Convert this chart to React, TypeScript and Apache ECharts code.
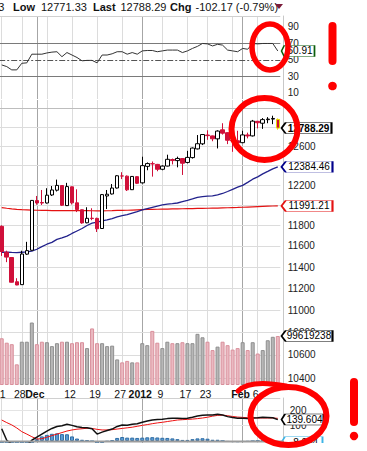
import { useEffect, useRef } from 'react';
import * as echarts from 'echarts';

const FONT = '"Liberation Sans", Arial, Helvetica, sans-serif';

const dates = [
  '2011-11-21', '2011-11-22', '2011-11-23', '2011-11-25', '2011-11-28', '2011-11-29', '2011-11-30',
  '2011-12-01', '2011-12-02', '2011-12-05', '2011-12-06', '2011-12-07', '2011-12-08', '2011-12-09',
  '2011-12-12', '2011-12-13', '2011-12-14', '2011-12-15', '2011-12-16', '2011-12-19', '2011-12-20',
  '2011-12-21', '2011-12-22', '2011-12-23', '2011-12-27', '2011-12-28', '2011-12-29', '2011-12-30',
  '2012-01-03', '2012-01-04', '2012-01-05', '2012-01-06', '2012-01-09', '2012-01-10', '2012-01-11',
  '2012-01-12', '2012-01-13', '2012-01-17', '2012-01-18', '2012-01-19', '2012-01-20', '2012-01-23',
  '2012-01-24', '2012-01-25', '2012-01-26', '2012-01-27', '2012-01-30', '2012-01-31', '2012-02-01',
  '2012-02-02', '2012-02-03', '2012-02-06', '2012-02-07', '2012-02-08', '2012-02-09', '2012-02-10',
];

const prevClose0 = 11796.16;

const opens = [
  11790, 11540, 11490, 11262, 11235, 11522, 11559, 12044, 12025, 12020,
  12100, 12148, 12195, 11994, 12182, 12022, 11953, 11825, 11870, 11868,
  11769, 12090, 12110, 12170, 12292, 12290, 12153, 12285, 12222, 12390,
  12417, 12410, 12360, 12393, 12460, 12449, 12470, 12430, 12480, 12570,
  12623, 12715, 12706, 12675, 12770, 12740, 12658, 12655, 12635, 12716,
  12706, 12860, 12840, 12878, 12884, 12880,
];
const highs = [
  11800, 11555, 11495, 11295, 11555, 11640, 12050, 12090, 12150, 12168,
  12190, 12255, 12200, 12222, 12185, 12157, 11955, 11978, 11968, 11875,
  12110, 12150, 12210, 12300, 12330, 12297, 12290, 12290, 12489, 12430,
  12440, 12415, 12400, 12510, 12470, 12490, 12475, 12550, 12585, 12715,
  12725, 12765, 12710, 12765, 12840, 12745, 12660, 12760, 12760, 12740,
  12875, 12865, 12895, 12905, 12920, 12890.63,
];
const lows = [
  11505, 11446, 11255, 11230, 11232, 11515, 11555, 12003, 12000, 12015,
  12090, 12135, 11990, 11990, 12005, 11930, 11815, 11820, 11850, 11735,
  11766, 11960, 12105, 12165, 12260, 12140, 12150, 12210, 12215, 12350,
  12285, 12340, 12350, 12390, 12410, 12380, 12302, 12420, 12470, 12565,
  12610, 12665, 12650, 12575, 12720, 12620, 12540, 12600, 12630, 12680,
  12700, 12785, 12780, 12840, 12830, 12771.33,
];
const closes = [
  11547.31, 11493.72, 11257.55, 11231.78, 11523.01, 11555.63, 12045.68, 12020.03, 12019.42, 12097.83,
  12150.13, 12196.37, 11997.7, 12184.26, 12021.39, 11954.94, 11823.48, 11868.81, 11866.39, 11766.26,
  12103.58, 12107.74, 12169.65, 12294.0, 12291.35, 12151.41, 12287.04, 12217.56, 12397.38, 12418.42,
  12415.7, 12359.92, 12392.69, 12462.47, 12449.45, 12471.02, 12422.06, 12482.07, 12578.95, 12623.98,
  12720.48, 12708.82, 12675.75, 12756.96, 12734.63, 12660.46, 12653.72, 12632.91, 12716.46, 12705.41,
  12862.23, 12845.13, 12878.28, 12883.95, 12890.46, 12788.29,
];
const volumes = [
  95000000, 86000000, 83000000, 42000000, 88000000, 88000000, 127000000, 83000000, 88000000, 87000000,
  79000000, 85000000, 88000000, 88000000, 85000000, 87000000, 87000000, 75000000, 115000000, 85000000,
  85000000, 79000000, 80000000, 52000000, 46000000, 49000000, 46000000, 46000000, 85000000, 81000000,
  110000000, 86000000, 75000000, 88000000, 85000000, 85000000, 87000000, 85000000, 85000000, 104000000,
  97000000, 88000000, 71000000, 78000000, 88000000, 81000000, 72000000, 75000000, 87000000, 71000000,
  87000000, 64000000, 71000000, 91000000, 98000000, 99619238,
];
const ma50 = [
  11540, 11540, 11538, 11537, 11540, 11543, 11550, 11569, 11594, 11617,
  11635, 11664, 11678, 11695, 11721, 11745, 11769, 11798, 11821, 11832,
  11844, 11854, 11866, 11883, 11895, 11905, 11920, 11935, 11951, 11964,
  11977, 11990, 12001, 12008, 12013, 12020, 12033, 12046, 12060, 12076,
  12083, 12088, 12092, 12102, 12115, 12135, 12157, 12179, 12197, 12227,
  12259, 12283, 12313, 12338, 12364, 12384.46,
];
const ma200 = [
  11975, 11968, 11962, 11957, 11954, 11952, 11950, 11948, 11947, 11946,
  11945, 11945, 11945, 11945, 11945, 11945, 11945, 11944, 11943, 11942,
  11942, 11943, 11944, 11946, 11947, 11948, 11950, 11952, 11954, 11956,
  11957, 11958, 11959, 11960, 11961, 11962, 11963, 11964, 11965, 11966,
  11967, 11968, 11969, 11970, 11972, 11973, 11975, 11976, 11978, 11980,
  11982, 11984, 11986, 11988, 11990, 11991.21,
];
const rsi14 = [
  44, 42, 38, 38, 46, 46.5, 57, 57, 57, 58.5,
  59.5, 60, 54, 59, 56, 53, 49, 49.5, 49.5, 46.5,
  56, 56, 57.5, 60, 60, 57, 59, 57, 61, 61.5,
  61.5, 60, 61, 62, 62, 62, 59, 61, 64, 66.5,
  70, 69.5, 67, 69, 68, 62, 61, 60, 64, 63,
  70, 69.5, 70, 70, 70, 60.91,
];
const macdLine = [
  80, 5, -20, -45, -40, -28, 5, 25, 45, 65,
  82, 95, 100, 109, 102, 93, 88, 87, 80, 45,
  58, 68, 78, 95, 105, 103, 109, 112, 122, 130,
  137, 140, 142, 146, 148, 149, 146, 148, 155, 163,
  168, 170, 170, 175, 170, 159, 153, 148, 148, 147,
  150, 152, 155, 154, 152, 139.604,
];
const signalLine = [
  137, 120, 105, 85, 61, 45, 28, 13, 15, 25,
  35, 45, 55, 65, 72, 77, 80, 83, 82, 76,
  72, 72, 74, 78, 82, 86, 90, 96, 102, 107,
  113, 118, 122, 127, 132, 137, 139, 141, 143, 146,
  150, 155, 162, 167, 169, 165, 160, 156, 154, 152,
  151, 150, 150, 150, 150, 148,
];
const histogram = [
  -57, -115, -125, -130, -101, -73, -23, 12, 30, 40,
  47, 50, 45, 44, 30, 16, 8, 4, -2, -31,
  -14, -4, 6, 20, 26, 22, 22, 20, 22, 24,
  25, 23, 21, 20, 17, 12, 7, 7, 12, 17,
  18, 15, 8, 8, 1, -6, -7, -8, -6, -5,
  -1, 2, 5, 4, 2, -8.004,
];

const weekIdx = [0, 4, 7, 9, 14, 19, 24, 28, 32, 37, 41, 46, 48, 51];
const monthIdx = [7, 28, 48];
const labelIdx = [0, 4, 7, 14, 19, 24, 28, 32, 37, 41, 48, 51];
const labelText = ['21', '28', 'Dec', '12', '19', '27', '2012', '9', '17', '23', 'Feb', '6'];
const boldLabels = ['Dec', '2012', 'Feb'];
const priceTicks = [10400, 10600, 10800, 11000, 11200, 11400, 11600, 11800, 12000, 12200, 12400, 12600, 12800, 13000];
// tick labels that sit hidden under the value tags / top border in the reference
const hiddenPriceLabels = [12000, 12400, 12800, 13000];
const rsiTicks = [10, 30, 50, 70, 90];
const macdTicks = [100, 200];

const TAG_PATH = 'path://M0,6L5,0L60,0L60,12L5,12Z';

function buildOption() {
  const N = dates.length;
  const last = N - 1;
  const GL = -0.8;
  const GW = 281.1;
  const RED = '#d0103a';

  const grid = (top: number, height: number) => ({
    left: GL, width: GW, top, height, show: false, containLabel: false, outerBoundsMode: 'none',
  });

  const xBase = (gridIndex: number) => ({
    type: 'category', gridIndex, data: dates, boundaryGap: true,
    axisLine: { show: false }, axisTick: { show: false }, axisLabel: { show: false }, splitLine: { show: false },
  });

  const yRight = (gridIndex: number, extra: any) => ({
    gridIndex, position: 'right', offset: 3, z: 1,
    axisLine: { show: true, lineStyle: { color: '#c8c8c8', width: 1 } },
    axisTick: { show: false }, axisLabel: { show: false }, splitLine: { show: false },
    ...extra,
  });

  const vLines = weekIdx.map((i) => ({
    xAxis: dates[i],
    lineStyle: { color: monthIdx.includes(i) ? '#a6a6a6' : '#dcdcdc', width: 1, type: 'solid' },
    label: { show: false },
  }));

  const hLine = (v: number, color: string, label: string | null, type: any = 'solid', dist = 7.5) => ({
    yAxis: v,
    lineStyle: { color, width: 1, type },
    label: label == null
      ? { show: false }
      : { show: true, position: 'end', formatter: label, distance: dist, color: '#222', fontSize: 10, fontFamily: FONT },
  });

  const gridSeries = (k: number, hl: any[]) => ({
    type: 'line', xAxisIndex: k, yAxisIndex: k, data: [], silent: true, z: 1,
    markLine: { silent: true, z: 1, symbol: ['none', 'none'], animation: false, precision: 3, data: [...vLines, ...hl] },
  });

  const tag = (value: number, text: string, border: string, width: number, bold = false) => ({
    z: 20,
    symbol: TAG_PATH,
    symbolSize: [width, 11],
    symbolOffset: [3.7 + width / 2, 0],
    silent: true,
    animation: false,
    itemStyle: { color: '#fff', borderColor: border, borderWidth: 1 },
    label: {
      show: true, position: 'inside', formatter: text, color: '#000', fontSize: 10,
      fontWeight: bold ? 'bold' : 'normal', fontFamily: FONT, offset: [2, 0],
    },
    data: [{ coord: [dates[last], value] }],
  });

  const candleData = dates.map((_, i) => {
    const prev = i > 0 ? closes[i - 1] : prevClose0;
    const col = closes[i] < prev ? RED : '#000';
    const filled = closes[i] < opens[i];
    const fill = filled ? col : '#fff';
    const border = i === last ? '#e6d800' : col;
    return {
      value: [opens[i], closes[i], lows[i], highs[i]],
      itemStyle: { color: fill, color0: fill, borderColor: border, borderColor0: border, borderWidth: 1 },
    };
  });

  const volData = volumes.map((v, i) => {
    const prev = i > 0 ? closes[i - 1] : prevClose0;
    const down = closes[i] < prev;
    return {
      value: v,
      itemStyle: { color: down ? '#eab9c1' : '#b7b7b7', borderColor: down ? '#d98f9b' : '#8e8e8e', borderWidth: 1 },
    };
  });

  const rsiH = [
    hLine(103.3, '#d0d0d0', null),
    ...rsiTicks.map((v) =>
      hLine(
        v,
        v === 70 || v === 30 ? '#7a7a7a' : v === 50 ? '#555555' : 'rgba(0,0,0,0)',
        String(v),
        v === 50 ? [6, 2, 2, 2] : 'solid',
      ),
    ),
  ];
  const priceH = priceTicks.map((p) =>
    hLine(p, p === 13000 ? '#bdbdbd' : '#dcdcdc', hiddenPriceLabels.includes(p) ? null : String(p)),
  );
  const macdH = [hLine(280.5, '#d0d0d0', null), ...macdTicks.map((v) => hLine(v, '#e4e4e4', String(v), 'solid', 9.5))];

  const chg = closes[last] - closes[last - 1];
  const pct = (chg / closes[last - 1]) * 100;
  const txt = (x: number, text: string, bold = false, align = 'left') => ({
    type: 'text', x, y: 6.5, z: 100,
    style: { text, fontSize: 11, fontWeight: bold ? 'bold' : 'normal', fontFamily: FONT, fill: '#111', align, verticalAlign: 'middle' },
  });
  const redStroke = { fill: 'none', stroke: '#ff0000', lineWidth: 6, lineCap: 'round' };

  return {
    animation: false,
    backgroundColor: '#ffffff',
    textStyle: { fontFamily: FONT },
    grid: [grid(16, 83), grid(100, 285), grid(300, 85), grid(398, 45)],
    xAxis: [
      xBase(0),
      xBase(1),
      {
        ...xBase(2),
        axisLabel: {
          show: true,
          margin: 3,
          padding: [0, 4, 0, 0],
          interval: (index: number) => labelIdx.includes(index),
          formatter: (_: string, index: number) => {
            const t = labelText[labelIdx.indexOf(index)] || '';
            return boldLabels.includes(t) ? `{b|${t}}` : `{n|${t}}`;
          },
          rich: {
            b: { fontWeight: 'bold', fontSize: 10.5, fontFamily: FONT, color: '#111' },
            n: { fontSize: 10.5, fontFamily: FONT, color: '#111' },
          },
        },
      },
      xBase(3),
    ],
    yAxis: [
      yRight(0, { type: 'value', min: 2.7, max: 103.3 }),
      yRight(1, { type: 'log', logBase: 10, min: 10340, max: 13089 }),
      { type: 'value', gridIndex: 2, min: 0, max: 172.8e6, show: false, splitLine: { show: false } },
      yRight(3, { type: 'value', min: -13, max: 280.5 }),
    ],
    series: [
      gridSeries(0, rsiH),
      gridSeries(1, priceH),
      gridSeries(3, macdH),
      {
        type: 'line', xAxisIndex: 0, yAxisIndex: 0, data: rsi14, symbol: 'none', showSymbol: false, silent: true, z: 3,
        lineStyle: { color: '#333', width: 1 },
        markPoint: tag(rsi14[last], rsi14[last].toFixed(2), '#0b5e0b', 33),
      },
      {
        type: 'bar', xAxisIndex: 2, yAxisIndex: 2, data: volData, barWidth: 4, silent: true, z: 2,
        markPoint: tag(volumes[last], String(volumes[last]), '#000', 51),
      },
      {
        type: 'line', xAxisIndex: 1, yAxisIndex: 1, data: ma200, symbol: 'none', showSymbol: false, silent: true, z: 3,
        lineStyle: { color: '#e41212', width: 1.2 },
        markPoint: tag(ma200[last], ma200[last].toFixed(2), '#e41212', 51),
      },
      {
        type: 'line', xAxisIndex: 1, yAxisIndex: 1, data: ma50, symbol: 'none', showSymbol: false, silent: true, z: 3,
        lineStyle: { color: '#22228c', width: 1.3 },
        markPoint: tag(ma50[last], ma50[last].toFixed(2), '#00008b', 51),
      },
      {
        type: 'candlestick', xAxisIndex: 1, yAxisIndex: 1, data: candleData, barWidth: 4, silent: true, z: 4,
        markPoint: tag(closes[last], closes[last].toFixed(2), '#000', 50, true),
      },
      {
        type: 'bar', xAxisIndex: 3, yAxisIndex: 3, data: histogram, barWidth: 4, silent: true, z: 2,
        itemStyle: { color: '#5b9bd5', borderColor: '#2e6da4', borderWidth: 1 },
        markPoint: tag(histogram[last], histogram[last].toFixed(3), '#3cb4e6', 41),
      },
      {
        type: 'line', xAxisIndex: 3, yAxisIndex: 3, data: signalLine, symbol: 'none', showSymbol: false, silent: true, z: 3,
        lineStyle: { color: '#ee1111', width: 1 },
      },
      {
        type: 'line', xAxisIndex: 3, yAxisIndex: 3, data: macdLine, symbol: 'none', showSymbol: false, silent: true, z: 4,
        lineStyle: { color: '#111', width: 1.5 },
        markPoint: tag(macdLine[last], macdLine[last].toFixed(3), '#000', 42),
      },
    ],
    graphic: [
      { type: 'rect', z: 90, shape: { x: 0, y: 443, width: 367, height: 8 }, style: { fill: '#ffffff' } },
      { type: 'line', z: 95, shape: { x1: 0, y1: 441.5, x2: 284, y2: 441.5 }, style: { stroke: '#9c9c9c', lineWidth: 2 } },
      txt(4.5, highs[last].toFixed(2), false, 'right'),
      txt(13, 'Low', true),
      txt(41, lows[last].toFixed(2)),
      txt(93, 'Last', true),
      txt(120.5, closes[last].toFixed(2)),
      txt(170, 'Chg', true),
      txt(195.5, `${chg.toFixed(2)} (${pct.toFixed(2)}%)`),
      { type: 'polygon', z: 100, shape: { points: [[275, 4], [283, 4], [279, 9]] }, style: { fill: '#7a1b3a' } },
      // hand-drawn red annotations
      { type: 'ellipse', z: 110, shape: { cx: 270, cy: 47, rx: 18, ry: 23 }, style: { ...redStroke, lineWidth: 5.5 } },
      { type: 'line', z: 110, shape: { x1: 332.5, y1: 26, x2: 332.5, y2: 61 }, style: { stroke: '#ff0000', lineWidth: 8, lineCap: 'round' } },
      { type: 'circle', z: 110, shape: { cx: 332.5, cy: 86, r: 4.3 }, style: { fill: '#ff0000' } },
      { type: 'ellipse', z: 110, shape: { cx: 264.5, cy: 129, rx: 33, ry: 31 }, style: redStroke },
      { type: 'ellipse', z: 110, shape: { cx: 288.5, cy: 416, rx: 38, ry: 29 }, style: redStroke },
      { type: 'bezierCurve', z: 110, shape: { x1: 238, y1: 391, cpx1: 250, cpy1: 379, x2: 286, y2: 386 }, style: { ...redStroke, lineWidth: 5 } },
      { type: 'line', z: 110, shape: { x1: 354, y1: 382, x2: 354, y2: 422 }, style: { stroke: '#ff0000', lineWidth: 8, lineCap: 'round' } },
      { type: 'circle', z: 110, shape: { cx: 354, cy: 436, r: 4.2 }, style: { fill: '#ff0000' } },
    ],
  };
}

export default function App() {
  const ref = useRef<HTMLDivElement>(null);
  useEffect(() => {
    if (!ref.current) return;
    const chart = echarts.init(ref.current, undefined, { renderer: 'svg' });
    chart.setOption(buildOption() as any);
    return () => chart.dispose();
  }, []);
  return (
    <div
      ref={ref}
      style={{ position: 'fixed', left: 0, top: 0, width: 367, height: 451, background: '#fff' }}
    />
  );
}
